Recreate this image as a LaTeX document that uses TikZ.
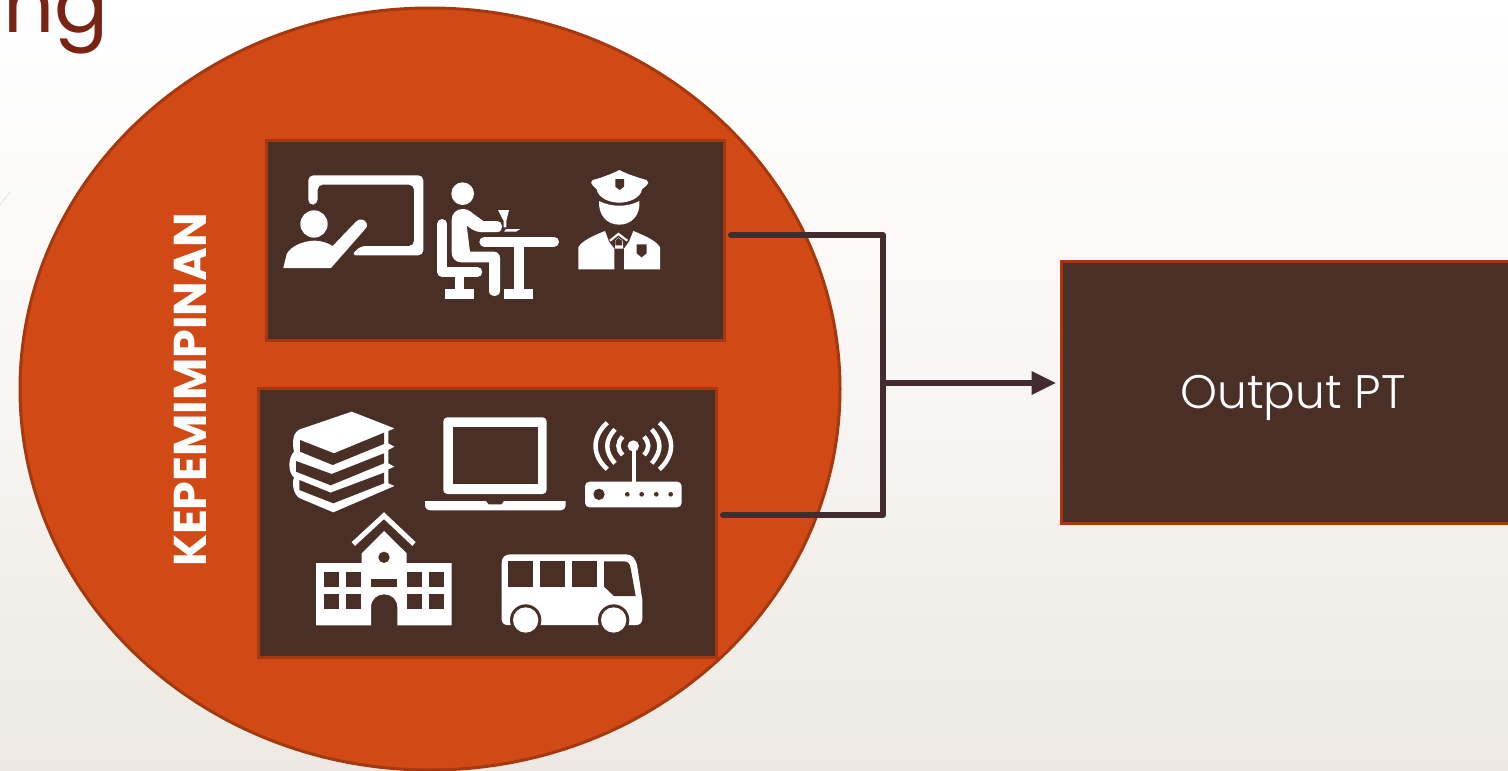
\documentclass[tikz,border=0pt]{standalone}
\usepackage{fontspec}
\setmainfont{Poppins}
\newfontfamily\lightf{Poppins Light}
\newfontfamily\boldf{Poppins Bold}
\definecolor{bgbot}{RGB}{237,233,226}
\definecolor{rust}{RGB}{209,73,20}
\definecolor{rustdk}{RGB}{165,56,14}
\definecolor{brownbox}{RGB}{74,47,39}
\definecolor{wirec}{RGB}{66,44,46}
\definecolor{titlec}{RGB}{122,34,20}
\tikzset{
  x=1pt,y=-1pt,
  panel/.style={draw=rustdk,line width=3pt,fill=brownbox,inner sep=0pt,minimum width=#1},
  wire/.style={draw=wirec,line width=6pt,line cap=round,line join=round},
  ico/.style={fill=white,draw=none},
  cut/.style={fill=brownbox,draw=none},
  iline/.style={draw=white,fill=none},
}
\begin{document}
\begin{tikzpicture}
\useasboundingbox (0,0) rectangle (1508,771);
\clip (0,0) rectangle (1508,771);
\fill[top color=white,bottom color=bgbot,middle color=white!60!bgbot] (0,0) rectangle (1508,771);
\draw[black!15,line width=0.6pt] (0,205) -- (10,192);
\node[anchor=base west,inner sep=0pt,text=titlec,font=\fontsize{80}{80}\selectfont] (title) at (3,32) {ng};
% circle
\draw[rustdk,line width=3pt,fill=rust] (430,389) ellipse [x radius=410,y radius=381];
% panels
\node[panel=458pt,minimum height=200pt] (box1) at (495,240) {};
\node[panel=458pt,minimum height=269pt] (box2) at (487,523) {};
\node[draw=rustdk,line width=3pt,fill=brownbox,inner sep=0pt,minimum width=480pt,minimum height=262pt] (out) at (1301,392) {};
\node[text=white,font=\lightf\fontsize{47}{47}\selectfont,inner sep=0pt] (outl) at (1293,398) {Output PT};
\node[rotate=90,text=white,font=\boldf\fontsize{46}{46}\selectfont,inner sep=0pt] (lead) at (190,390) {KEPEMIMPINAN};
% connectors
\coordinate (a1) at (731,235);
\coordinate (a2) at (883,235);
\coordinate (b1) at (723,515);
\coordinate (b2) at (883,515);
\coordinate (j) at (880,383);
\coordinate (t) at (out.west |- j);
\draw[wire] (a1) -- (a2) -- (b2) -- (b1);
\draw[draw=wirec,line width=6pt] (j) -- (1034,383);
\fill[wirec] (t) ++(-4,0) -- ++(-24,-12) -- ++(0,24) -- cycle;
% icons row 1
\begin{scope}[shift={(270,150)},scale=1/3]
 % teacher
 \fill[ico,rounded corners=5pt] (115,165) -- (115,76) -- (460,76) -- (460,316) -- (243,316) -- (272,288) -- (432,288) -- (432,104) -- (143,104) -- (143,163) -- cycle;
 \fill[ico] (132,222) circle [radius=41pt];
 \fill[ico] (40,354) -- (50,312) .. controls (65,285) and (105,272) .. (135,272) .. controls (155,272) and (175,280) .. (188,288) -- (258,215) .. controls (270,203) and (285,208) .. (290,220) .. controls (293,230) and (288,235) .. (283,240) -- (183,354) -- cycle;
 % seated person
 \fill[ico] (578,131) circle [radius=34pt];
 \draw[iline,line width=10pt,line cap=round,line join=round] (517,222) -- (517,366) -- (622,366);
 \fill[ico] (555,378) rectangle (583,420);
 \fill[ico] (526,418) rectangle (612,448);
 \fill[ico] (578,177) .. controls (590,177) and (600,182) .. (608,190) -- (640,213) -- (682,213) .. controls (700,213) and (702,246) .. (682,246) -- (630,246) .. controls (618,246) and (600,236) .. (590,226) -- (600,305) -- (670,305) .. controls (682,305) and (690,312) .. (690,325) -- (690,422) .. controls (690,444) and (657,444) .. (657,422) -- (657,337) -- (575,337) .. controls (557,337) and (545,325) .. (545,308) -- (545,210) .. controls (545,190) and (560,177) .. (578,177) -- cycle;
 \draw[iline,line width=10pt,line cap=round] (643,275) -- (852,275);
 \fill[ico] (733,285) rectangle (762,420);
 \fill[ico] (703,418) rectangle (790,448);
 \fill[ico] (684,180) -- (717,180) -- (709,213) -- (709,232) -- (701,232) -- (701,213) -- cycle;
 \fill[ico] (708,237) -- (751,237) -- (738,245) -- (702,245) -- cycle;
 % police
 \fill[ico] (1048,60) .. controls (1070,72) and (1110,85) .. (1130,90) .. controls (1137,95) and (1136,102) .. (1130,106) -- (1116,118) .. controls (1112,145) and (1075,158) .. (1048,158) .. controls (1020,158) and (985,145) .. (980,118) -- (968,106) .. controls (962,102) and (962,94) .. (968,90) .. controls (990,85) and (1025,72) .. (1048,60) -- cycle;
 \fill[cut] (1036,87) -- (1062,87) -- (1062,110) -- (1049,120) -- (1036,110) -- cycle;
 \fill[ico] (987,153) .. controls (1025,172) and (1072,172) .. (1108,153) .. controls (1112,195) and (1085,224) .. (1048,224) .. controls (1010,224) and (985,195) .. (987,153) -- cycle;
 \fill[ico] (925,358) -- (925,292) .. controls (935,272) and (975,255) .. (1005,243) -- (1017,275) -- (1033,296) -- (1033,358) -- cycle;
 \fill[ico] (1062,358) -- (1062,296) -- (1077,275) -- (1090,243) .. controls (1120,255) and (1160,272) .. (1170,292) -- (1170,358) -- cycle;
 \draw[iline,line width=2.2pt,miter limit=10] (1020,272) -- (1045,252) -- (1072,272);
 \fill[ico] (1035,272) -- (1045,262) -- (1058,272) -- (1060,296) -- (1035,296) -- cycle;
 \fill[cut] (1036,272) -- (1045,264) -- (1056,272) -- (1056,286) -- (1036,286) -- cycle;
 \fill[cut] (1100,283) -- (1130,283) -- (1130,310) -- (1115,322) -- (1100,310) -- cycle;
\end{scope}
% icons row 2 and 3
\begin{scope}[shift={(270,400)},scale=1/3]
 % books
 \fill[ico] (245,35) -- (373,85) -- (355,93) -- (355,130) -- (373,140) -- (355,150) -- (355,190) -- (373,200) -- (355,208) -- (355,250) -- (373,258) -- (190,337) -- (90,295) .. controls (70,285) and (65,250) .. (72,232) .. controls (55,220) and (52,175) .. (72,155) .. controls (65,125) and (70,95) .. (90,88) -- cycle;
 \fill[cut] (90,120) -- (192,160) -- (342,98) -- (342,132) -- (188,195) -- (90,155) -- cycle;
 \fill[cut] (78,183) -- (185,222) -- (342,160) -- (342,190) -- (182,256) -- (78,215) -- cycle;
 \fill[cut] (88,240) -- (182,278) -- (342,218) -- (342,250) -- (190,310) -- (88,270) -- cycle;
 % laptop
 \fill[ico,rounded corners=4pt] (520,52) rectangle (830,282);
 \fill[cut] (548,82) rectangle (803,253);
 \fill[ico] (465,303) -- (648,303) -- (655,313) -- (695,313) -- (702,303) -- (887,303) -- (887,315) .. controls (887,325) and (880,331) .. (870,331) -- (482,331) .. controls (472,331) and (465,325) .. (465,315) -- cycle;
 % router
 \fill[ico,rounded corners=4.5pt] (945,245) rectangle (1235,322);
 \fill[cut] (987,283) circle [radius=17pt];
 \foreach \dx in {1072,1115,1159,1202} \fill[cut] (\dx,283) circle [radius=7pt];
 \fill[ico] (1085,135) rectangle (1098,245);
 \fill[ico] (1090,138) circle [radius=17pt];
 \begin{scope}[iline,line width=4.5pt]
  \draw (1012,68) .. controls (965,110) and (965,166) .. (1012,208);
  \draw (1035,88) .. controls (1004,122) and (1004,154) .. (1035,190);
  \draw (1058,110) .. controls (1041,128) and (1041,147) .. (1058,165);
  \draw (1168,68) .. controls (1215,110) and (1215,166) .. (1168,208);
  \draw (1145,88) .. controls (1176,122) and (1176,154) .. (1145,190);
  \draw (1122,110) .. controls (1139,128) and (1139,147) .. (1122,165);
 \end{scope}
 % school
 \draw[iline,line width=5pt,miter limit=10] (250,432) -- (342,347) -- (432,432);
 \fill[ico] (138,489) -- (275,489) -- (275,460) -- (342,393) -- (410,460) -- (410,489) -- (545,489) -- (545,676) -- (382,676) -- (382,622) .. controls (382,570) and (303,570) .. (303,622) -- (303,676) -- (138,676) -- cycle;
 \fill[cut] (342,472) circle [radius=17pt];
 \foreach \wx in {161,229,410,478} \foreach \wy in {516,581} \fill[cut] (\wx,\wy) rectangle ++(45,45);
 \fill[cut] (303,538) rectangle (382,560);
 % bus
 \fill[ico] (695,490) .. controls (695,472) and (705,463) .. (722,463) -- (1068,463) .. controls (1088,463) and (1098,478) .. (1102,500) -- (1117,600) -- (1117,655) .. controls (1117,668) and (1110,675) .. (1098,675) -- (712,675) .. controls (702,675) and (695,668) .. (695,658) -- cycle;
 \foreach \wh in {767,1031} {
  \fill[cut] (\wh,660) circle [radius=47pt];
  \fill[ico] (\wh,660) circle [radius=38pt];
 }
 \fill[cut] (715,484) rectangle (790,560);
 \fill[cut] (810,484) rectangle (886,560);
 \fill[cut] (905,484) rectangle (982,560);
 \fill[cut] (1002,484) -- (1062,484) .. controls (1075,484) and (1080,492) .. (1082,505) -- (1097,588) -- (1032,588) -- (1002,560) -- cycle;
\end{scope}
\end{tikzpicture}
\end{document}
